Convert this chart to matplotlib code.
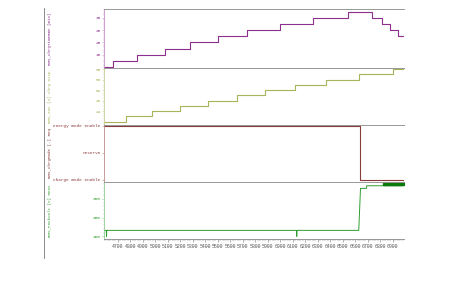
import matplotlib
matplotlib.use("Agg")
import matplotlib.pyplot as plt
from matplotlib.lines import Line2D
from matplotlib.ticker import MultipleLocator

matplotlib.rcParams.update({
    "font.family": "Liberation Mono",
    "font.size": 3.2,
    "xtick.labelsize": 3.5,
    "ytick.labelsize": 3.2,
})

# --- data ---
# panel 1: remaining charge time (step series)
t_time = [4590, 4658, 4852, 5076, 5276, 5500, 5732, 5996, 6260, 6540, 6732, 6812, 6876, 6940, 6990]
v_time = [10, 12.5, 15, 17.5, 20, 22.5, 25, 27.5, 30, 32.5, 30, 27.5, 25, 22.5, 22.5]

# panel 2: state of charge (step series)
t_soc = [4590, 4764, 4972, 5196, 5420, 5652, 5876, 6116, 6364, 6628, 6900, 6990]
v_soc = [40, 42, 44, 46, 48, 50, 52, 54, 56, 58, 60, 60]

# panel 3: charge mode (categorical)
mode_labels = ["charge mode enable", "reserve", "energy mode enable"]
t_mode = [4590, 6636, 6990]
v_mode = [2, 0, 0]

# panel 4: voltage-like signal
t_volt = [4590, 4608, 4610, 4612, 6130, 6132, 6134, 6628, 6642, 6690, 6692, 6828]
v_volt = [166, 166, 150, 166, 166, 150, 166, 166, 278, 278, 285, 285]
t_marks = [6830, 6838, 6846, 6854, 6862, 6870, 6878, 6886, 6894, 6902,
           6910, 6918, 6926, 6934, 6942, 6950, 6958, 6966, 6974, 6982]
v_marks = [289] * len(t_marks)

x_ticks = list(range(4700, 7000, 100))

panels = [
    ("BMS_ChrgTimeRmn [min]", "#8e2f8e", "#c98fc9"),
    ("BMS_SOC [%] Chrg Disp", "#a9b35a", "#c8cc90"),
    ("BMS_ChrgMode [-] Req", "#8b3a3a", "#c08a8a"),
    ("BMS_PackVolt [V] Meas", "#2e9e2e", "#8fcc8f"),
]

fig = plt.figure(figsize=(4.54, 2.83), dpi=100)
bounds = [9, 68, 125, 182, 239]
H = 283.0
left, right = 104 / 454.0, 404 / 454.0
axes = []
for i in range(4):
    y0 = 1 - bounds[i + 1] / H
    h = (bounds[i + 1] - bounds[i]) / H
    ax = fig.add_axes([left, y0, right - left, h])
    axes.append(ax)

ax1, ax2, ax3, ax4 = axes

ax1.step(t_time, v_time, where="post", color=panels[0][1], lw=0.8)
ax1.set_ylim(9.6, 33.6)
ax1.set_yticks([15, 20, 25, 30])
ax1.yaxis.set_minor_locator(MultipleLocator(1))

ax2.step(t_soc, v_soc, where="post", color=panels[1][1], lw=0.8)
ax2.set_ylim(38.75, 60.4)
ax2.set_yticks([44, 48, 52, 56, 60])
ax2.yaxis.set_minor_locator(MultipleLocator(1))

ax3.step(t_mode, v_mode, where="post", color=panels[2][1], lw=0.8)
ax3.set_ylim(-0.08, 2.02)
ax3.set_yticks([0, 1, 2])
ax3.set_yticklabels(mode_labels)

ax4.plot(t_volt, v_volt, color=panels[3][1], lw=0.7)
ax4.plot(t_marks, v_marks, ls="none", marker="s", ms=1.6, color="#0a7a0a")
ax4.set_ylim(143, 295)
ax4.set_yticks([150, 200, 250])
ax4.yaxis.set_minor_locator(MultipleLocator(10))

for ax, (label, col, light) in zip(axes, panels):
    ax.set_xlim(4590, 6990)
    ax.spines["right"].set_visible(False)
    ax.spines["top"].set_color("#888888")
    ax.spines["bottom"].set_color("#888888")
    ax.spines["left"].set_color(light)
    for s in ax.spines.values():
        s.set_linewidth(0.6)
    ax.tick_params(axis="y", colors=light, labelcolor=col, length=1.5, width=0.4, pad=1)
    ax.tick_params(axis="y", which="minor", colors=light, length=1, width=0.3)
    ax.set_xticks(x_ticks)
    ax.xaxis.set_minor_locator(MultipleLocator(20))
    if ax is not ax4:
        ax.tick_params(axis="x", which="both", bottom=False, labelbottom=False)
    y_mid = ax.get_position().y0 + ax.get_position().height / 2
    fig.text(50 / 454.0, y_mid, label, rotation=90, ha="center", va="center",
             color=col, fontsize=3.0)

ax4.tick_params(axis="x", colors="#777777", labelcolor="#555555", length=2, width=0.4, pad=1.5)
ax4.tick_params(axis="x", which="minor", colors="#777777", length=1.2, width=0.3)

# long vertical line on the left of the figure
fig.add_artist(Line2D([44 / 454.0, 44 / 454.0], [1 - 8 / H, 1 - 258 / H],
                      transform=fig.transFigure, color="#777777", lw=0.6))

fig.savefig("out.png", dpi=100)
